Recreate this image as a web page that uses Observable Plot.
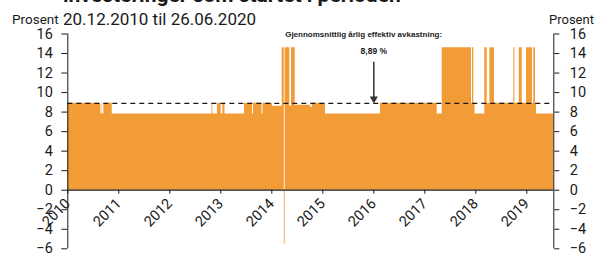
<!DOCTYPE html>
<html>
<head>
<meta charset="utf-8">
<script src="https://cdn.jsdelivr.net/npm/d3@7"></script>
<script src="https://cdn.jsdelivr.net/npm/@observablehq/plot@0.6"></script>
<style>
  html, body { margin: 0; padding: 0; background: #fff; }
  #wrap { position: relative; width: 596px; height: 255px; overflow: hidden; font-family: Roboto, "DejaVu Sans", sans-serif; color: #1a1a1a; }
  #chart { position: absolute; left: 0; top: 0; }
  .t { position: absolute; white-space: nowrap; line-height: 1; }
</style>
</head>
<body>
<div id="wrap">
  <div class="t" id="title" style="left:63px; top:-15px; font-size:21px; font-weight:700;">investeringer som startet i perioden</div>
  <div class="t" style="left:12px; top:13px; font-size:13.5px;">Prosent</div>
  <div class="t" style="left:63px; top:11px; font-size:17px;">20.12.2010 til 26.06.2020</div>
  <div class="t" style="left:549px; top:13px; font-size:13px;">Prosent</div>
  <div id="chart"></div>
</div>
<script>
// ---- data ----
const years = [2010, 2011, 2012, 2013, 2014, 2015, 2016, 2017, 2018, 2019];
const yTicks = [-6, -4, -2, 0, 2, 4, 6, 8, 10, 12, 14, 16];
const xDomain = [2010, 2019.529];
const yDomain = [-6, 16];
const avgReturn = 8.89;
const avgLabel = "8,89 %";
const avgHeader = "Gjennomsnittlig årlig effektiv avkastning:";
// start of each step (decimal year) and the return for that step
const stepStart = [
  2010.000, 2010.641, 2010.655, 2010.671, 2010.706, 2010.871,
  2012.827, 2012.843, 2012.935, 2013.008, 2013.039, 2013.082,
  2013.465, 2013.622, 2013.641, 2013.808, 2013.827, 2014.014,
  2014.204, 2014.245, 2014.261, 2014.353, 2014.386, 2014.459,
  2014.759, 2014.792, 2015.053, 2016.131, 2017.243, 2017.341,
  2017.916, 2017.935, 2017.961, 2017.984, 2018.176, 2018.224,
  2018.275, 2018.367, 2018.745, 2018.765, 2018.851, 2018.910,
  2018.994, 2019.112, 2019.137, 2019.171, 2019.190
];
const stepValue = [
  8.9, 7.8, 8.9, 7.8, 8.9, 7.8,
  8.9, 7.8, 8.9, 7.8, 8.9, 7.8,
  8.9, 7.8, 8.9, 7.8, 8.9, 8.6,
  14.6, -5.5, 14.6, 8.6, 14.6, 8.7,
  8.5, 8.9, 7.8, 8.9, 7.8, 14.6,
  8.9, 14.6, 8.9, 7.8, 14.6, 8.9,
  14.6, 8.9, 14.6, 8.9, 14.6, 8.9,
  14.6, 8.9, 14.6, 8.9, 7.8
];
// annotation anchors (data units)
const arrowX = 2016.0;
const headerX = 2015.8;
const headerY = 16.0;
const labelY = 14.2;
const arrowTop = 13.1;
const arrowTip = 9.35;

// ---- build ----
const series = stepStart.map((x, i) => ({x, y: stepValue[i]}));
series.push({x: xDomain[1], y: stepValue[stepValue.length - 1]});

const W = 596, H = 255;
const mTop = 33.5, mBottom = 6.7, mLeft = 67.3, mRight = 42.7;
const innerH = H - mTop - mBottom;
const zeroOffset = (0 - yDomain[0]) / (yDomain[1] - yDomain[0]) * innerH;

const orange = "#f29c38";
const ink = "#1a1a1a";

const chart = Plot.plot({
  width: W, height: H,
  marginTop: mTop, marginBottom: mBottom, marginLeft: mLeft, marginRight: mRight,
  style: {fontFamily: "Roboto, sans-serif", fontSize: "14.5px", color: ink, background: "transparent"},
  x: {domain: xDomain, type: "linear"},
  y: {domain: yDomain},
  marks: [
    Plot.areaY(series, {x: "x", y: "y", curve: "step-after", fill: orange}),
    Plot.ruleY([avgReturn], {stroke: ink, strokeWidth: 1.2, strokeDasharray: "5,4"}),
    Plot.ruleY([0], {stroke: ink, strokeWidth: 1.3}),
    Plot.ruleX(xDomain, {stroke: ink, strokeWidth: 1}),
    Plot.axisY({anchor: "left", ticks: yTicks, tickSize: 6, tickPadding: 9, label: null, stroke: ink}),
    Plot.axisY({anchor: "right", ticks: yTicks, tickSize: 5, tickPadding: 11, label: null, stroke: ink}),
    Plot.axisX({anchor: "bottom", ticks: years, tickFormat: d => String(d), tickRotate: -45, tickSize: 4, tickPadding: 7, label: null, dy: -zeroOffset, stroke: ink}),
    Plot.ruleX([arrowX], {y1: arrowTop, y2: arrowTip, stroke: "#333", strokeWidth: 1.5}),
    Plot.dot([arrowX], {x: d => d, y: arrowTip, symbol: "triangle", rotate: 180, r: 3, fill: "#333", stroke: "none"}),
    Plot.text([avgHeader], {x: headerX, y: headerY, text: d => d, fontFamily: "Liberation Sans, Arial, sans-serif", fontWeight: "bold", fontSize: 8, fill: ink}),
    Plot.text([avgLabel], {x: arrowX, y: labelY, text: d => d, fontFamily: "Liberation Sans, Arial, sans-serif", fontWeight: "bold", fontSize: 8.5, fill: ink})
  ]
});
document.getElementById("chart").appendChild(chart);
</script>
</body>
</html>
